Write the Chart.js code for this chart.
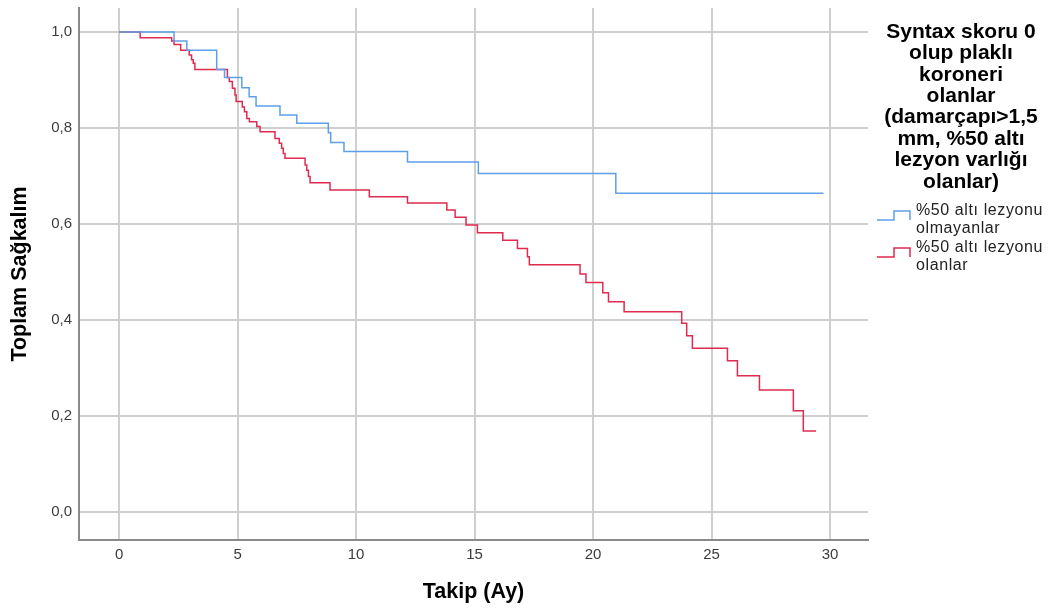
<!DOCTYPE html>
<html lang="tr">

<head>
    <meta charset="UTF-8">
    <title>Kaplan-Meier - Toplam Sağkalım</title>
    <script src="https://cdn.jsdelivr.net/npm/chart.js@4.4.1/dist/chart.umd.min.js"></script>
    <style>
        body { margin: 0; background: #fff; }
    </style>
</head>

<body>
    <canvas id="chart" width="1059" height="609"></canvas>
    <script>
        // follow-up in months, survival after each drop
        const noLesionTimes = [0, 2.32, 2.86, 4.12, 4.45, 5.18, 5.49, 5.78, 6.79, 7.50, 8.83, 8.93, 9.49, 12.17, 15.16, 20.96, 29.72];
        const noLesionSurv = [1.0, 0.981, 0.962, 0.922, 0.905, 0.884, 0.865, 0.846, 0.827, 0.810, 0.790, 0.770, 0.751, 0.729, 0.705, 0.664, 0.664];

        const lesionTimes = [0, 0.89, 2.22, 2.32, 2.60, 2.96, 3.06, 3.13, 3.20, 4.57, 4.65, 4.78, 4.89, 4.94, 5.20, 5.29, 5.39, 5.50, 5.81, 5.95,
            6.58, 6.76, 6.86, 6.93, 7.00, 7.85, 7.92, 7.99, 8.06, 8.90, 10.56, 12.17, 13.83, 14.18, 14.64, 15.12, 16.19, 16.81, 17.23, 17.31,
            19.45, 19.70, 20.41, 20.65, 21.31, 23.74, 23.95, 24.19, 25.67, 26.09, 27.02, 28.45, 28.87, 29.41];
        const lesionSurv = [1.0, 0.988, 0.981, 0.974, 0.962, 0.952, 0.942, 0.935, 0.922, 0.905, 0.897, 0.883, 0.869, 0.855, 0.844, 0.834, 0.820, 0.813, 0.803, 0.792,
            0.778, 0.768, 0.758, 0.747, 0.737, 0.723, 0.712, 0.699, 0.686, 0.671, 0.657, 0.644, 0.629, 0.614, 0.598, 0.582, 0.566, 0.549, 0.532, 0.515,
            0.496, 0.478, 0.457, 0.438, 0.417, 0.393, 0.367, 0.341, 0.315, 0.284, 0.254, 0.211, 0.169, 0.169];

        const xTicks = [0, 5, 10, 15, 20, 25, 30];
        const yTicks = [0, 0.2, 0.4, 0.6, 0.8, 1.0];
        const seriesLabels = [['%50 altı lezyonu', 'olmayanlar'], ['%50 altı lezyonu', 'olanlar']];
        const legendTitle = ['Syntax skoru 0', 'olup plaklı', 'koroneri', 'olanlar', '(damarçapı>1,5', 'mm, %50 altı', 'lezyon varlığı', 'olanlar)'];

        const FONT = '"Liberation Sans", Arial, sans-serif';
        const toPoints = (xs, ys) => xs.map((x, i) => ({ x, y: ys[i] }));

        // SPSS-like legend on the right
        const sideLegend = {
            id: 'sideLegend',
            afterDraw(chart) {
                const ctx = chart.ctx;
                ctx.save();
                ctx.fillStyle = '#000';
                ctx.font = 'bold 21px ' + FONT;
                ctx.textAlign = 'center';
                ctx.textBaseline = 'middle';
                legendTitle.forEach((line, i) => ctx.fillText(line, 961, 32 + i * 21.4));

                ctx.font = '16px ' + FONT;
                ctx.letterSpacing = '0.6px';
                ctx.textAlign = 'left';
                ctx.fillStyle = '#222';
                chart.data.datasets.forEach((ds, i) => {
                    const top = 211 + i * 37;
                    ctx.strokeStyle = ds.borderColor;
                    ctx.lineWidth = 1.5;
                    ctx.beginPath();
                    ctx.moveTo(877, top + 9);
                    ctx.lineTo(894, top + 9);
                    ctx.lineTo(894, top);
                    ctx.lineTo(910, top);
                    ctx.lineTo(910, top + 9);
                    ctx.stroke();
                    seriesLabels[i].forEach((t, j) => ctx.fillText(t, 916, top + j * 17.5));
                });
                ctx.restore();
            }
        };

        const noPad = scale => {
            scale.paddingTop = 0;
            scale.paddingBottom = 0;
            scale.paddingLeft = 0;
            scale.paddingRight = 0;
        };

        const ctx = document.getElementById('chart').getContext('2d');
        const myChart = new Chart(ctx, {
            type: 'line',
            data: {
                datasets: [{
                    label: seriesLabels[0].join(' '),
                    data: toPoints(noLesionTimes, noLesionSurv),
                    borderColor: '#5e9fe9',
                    borderWidth: 1.5,
                    stepped: true,
                    pointRadius: 0,
                    fill: false
                }, {
                    label: seriesLabels[1].join(' '),
                    data: toPoints(lesionTimes, lesionSurv),
                    borderColor: '#e02a50',
                    borderWidth: 1.5,
                    stepped: true,
                    pointRadius: 0,
                    fill: false
                }]
            },
            options: {
                responsive: false,
                animation: false,
                layout: { padding: { top: 8, right: 191, left: 0, bottom: 0 } },
                plugins: {
                    legend: { display: false },
                    tooltip: { enabled: false }
                },
                scales: {
                    x: {
                        type: 'linear',
                        min: -1.69,
                        max: 31.6,
                        afterFit(scale) { scale.height = 69; noPad(scale); },
                        afterBuildTicks(scale) { scale.ticks = xTicks.map(value => ({ value })); },
                        grid: { color: '#cfcfcf', lineWidth: 2, drawTicks: false },
                        border: { color: '#8a8a8a', width: 2 },
                        ticks: {
                            padding: 6,
                            color: '#3c3c3c',
                            font: { family: FONT, size: 15 },
                            maxRotation: 0
                        },
                        title: {
                            display: true,
                            text: 'Takip (Ay)',
                            color: '#000',
                            padding: { top: 0, bottom: 4 },
                            font: { family: FONT, size: 21.5, weight: 'bold' }
                        }
                    },
                    y: {
                        min: -0.0583,
                        max: 1.05,
                        afterFit(scale) { scale.width = 79; noPad(scale); },
                        afterBuildTicks(scale) { scale.ticks = yTicks.map(value => ({ value })); },
                        grid: { color: '#cfcfcf', lineWidth: 2, drawTicks: false },
                        border: { color: '#8a8a8a', width: 2 },
                        ticks: {
                            padding: 7,
                            color: '#3c3c3c',
                            font: { family: FONT, size: 15 },
                            callback(value) {
                                return value.toFixed(1).replace('.', ',');
                            }
                        },
                        title: {
                            display: true,
                            text: 'Toplam Sağkalım',
                            color: '#000',
                            padding: { top: 7, bottom: 0 },
                            font: { family: FONT, size: 21.5, weight: 'bold' }
                        }
                    }
                }
            },
            plugins: [sideLegend]
        });
    </script>
</body>

</html>
